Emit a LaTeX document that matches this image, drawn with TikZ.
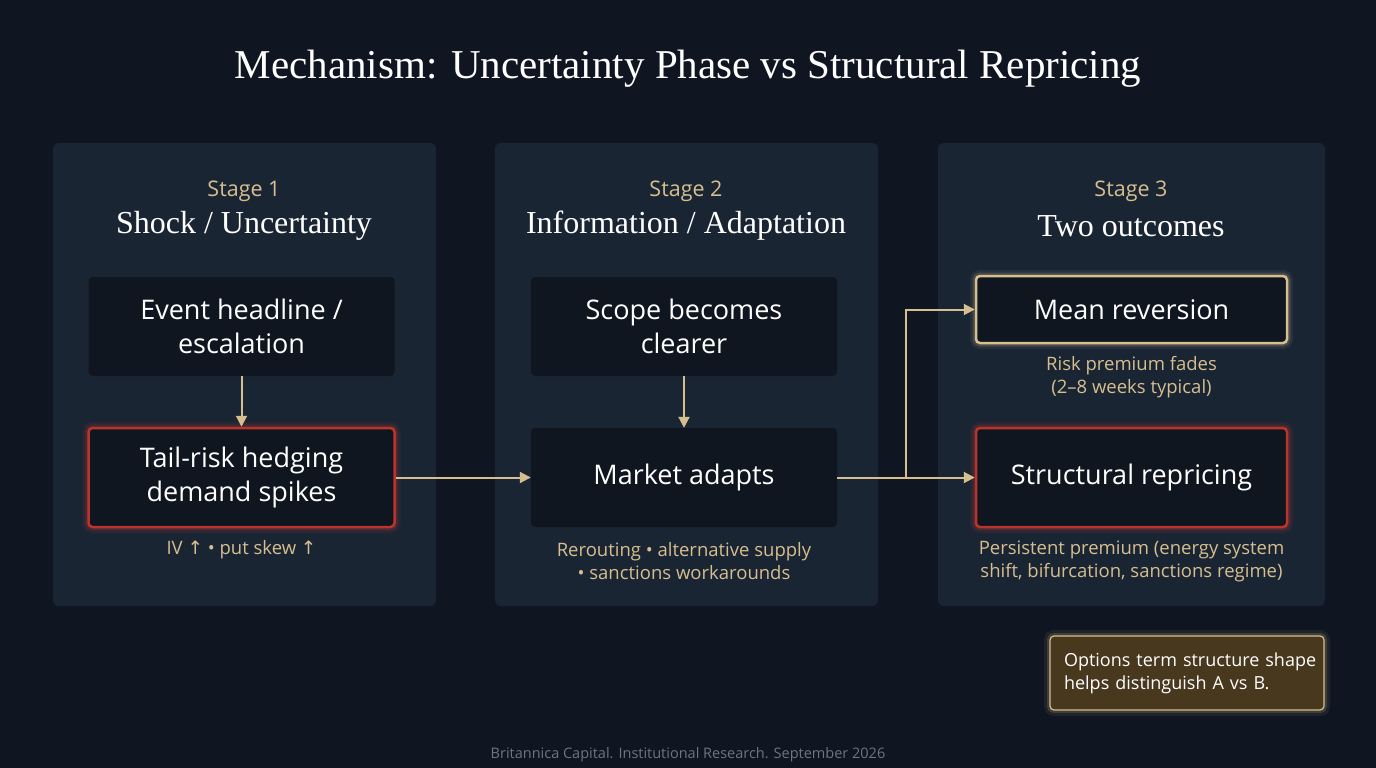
\documentclass[tikz,border=0pt]{standalone}
\usepackage{fontspec}
\setmainfont{Open Sans}
\newfontfamily\titlefont{Liberation Serif}
\newfontfamily\symfont{DejaVu Sans}
\usetikzlibrary{arrows.meta}
\definecolor{bg}{RGB}{15,22,33}
\definecolor{panel}{RGB}{26,37,52}
\definecolor{inner}{RGB}{16,22,31}
\definecolor{gold}{RGB}{214,190,142}
\definecolor{redb}{RGB}{185,52,45}
\definecolor{notefill}{RGB}{72,56,30}
\definecolor{foot}{RGB}{110,116,128}
\tikzset{
  panelbox/.style={rectangle, rounded corners=6pt, fill=panel, minimum width=383pt, minimum height=463pt, inner sep=0},
  box/.style={rectangle, rounded corners=4pt, fill=inner, minimum width=306pt, minimum height=99pt, text=white, font=\fontsize{27}{34}\selectfont, align=center, inner sep=0},
  redglow/.style={preaction={draw=redb, fill=none, line width=12pt, opacity=0.10},
                  preaction={draw=redb, fill=none, line width=7pt, opacity=0.22},
                  draw=redb, line width=2.5pt},
  goldglow/.style={preaction={draw=gold, fill=none, line width=12pt, opacity=0.08},
                   preaction={draw=gold, fill=none, line width=7pt, opacity=0.18},
                   draw=gold, line width=2.5pt},
  stagelbl/.style={text=gold, font=\fontsize{21.5}{24}\selectfont},
  stagehead/.style={text=white, font=\titlefont\fontsize{32}{38}\selectfont},
  subtxt/.style={text=gold, font=\fontsize{18.5}{23}\selectfont, align=center},
  conn/.style={draw=gold, line width=2pt},
  arr/.style={conn, -{Triangle[length=11pt,width=11pt]}},
}
\begin{document}
\begin{tikzpicture}[x=1pt,y=-1pt]
\useasboundingbox (0,0) rectangle (1376,768);
\fill[bg] (0,0) rectangle (1376,768);

\node[text=white, font=\titlefont\fontsize{41}{48}\selectfont] (title) at (688,69) {Mechanism: Uncertainty Phase vs Structural Repricing};

\node[panelbox] (p1) at (244.5,374.5) {};
\node[panelbox] (p2) at (686.5,374.5) {};
\node[panelbox, minimum width=387pt] (p3) at (1131.5,374.5) {};

\node[stagelbl] (s1) at (244,191) {Stage 1};
\node[stagehead] (h1) at (244,226) {Shock / Uncertainty};
\node[stagelbl] (s2) at (686,191) {Stage 2};
\node[stagehead] (h2) at (686,226) {Information / Adaptation};
\node[stagelbl] (s3) at (1131,191) {Stage 3};
\node[stagehead] (h3) at (1131,226) {Two outcomes};

\node[box] (event) at (241.5,326.5) {Event headline /\\escalation};
\node[box, redglow] (tail) at (241.5,477.5) {Tail-risk hedging\\demand spikes};
\node[subtxt] (ivtxt) at (241.5,550) {IV {\symfont ↑} • put skew {\symfont ↑}};

\node[box] (scope) at (684,326.5) {Scope becomes\\clearer};
\node[box] (market) at (684,477.5) {Market adapts};
\node[subtxt] (mtxt) at (684,561.5) {Rerouting • alternative supply\\• sanctions workarounds};

\node[box, goldglow, minimum width=311pt, minimum height=67pt] (mean) at (1131.5,309.5) {Mean reversion};
\node[subtxt] (meantxt) at (1131.5,377.5) {Risk premium fades\\(2–8 weeks typical)};
\node[box, redglow, minimum width=311pt] (struct) at (1131.5,477.5) {Structural repricing};
\node[subtxt] (structtxt) at (1131.5,561.5) {Persistent premium (energy system\\shift, bifurcation, sanctions regime)};

\draw[arr] (event.south) -- (tail.north);
\draw[arr] (scope.south) -- (market.north);
\draw[arr] (tail.east) -- (market.west);
\coordinate (split) at (906,477.5);
\draw[conn] (market.east) -- (split);
\draw[arr] (split) -- (struct.west);
\draw[arr] (split) |- (mean.west);

\node[rectangle, rounded corners=4pt, fill=notefill,
      preaction={draw=gold, fill=none, line width=12pt, opacity=0.08},
      preaction={draw=gold, fill=none, line width=6pt, opacity=0.18},
      draw=gold, line width=1.2pt, minimum width=274pt, minimum height=74pt,
      text width=260pt, inner xsep=7pt, inner ysep=8pt, align=left, text=white,
      font=\fontsize{18}{23}\selectfont] (note) at (1187,673) {\hspace*{7pt}Options term structure shape\\\hspace*{7pt}helps distinguish A vs B.};

\node[text=foot, font=\fontsize{14.5}{16}\selectfont] (footer) at (688,755) {Britannica Capital. Institutional Research. September 2026};
\end{tikzpicture}
\end{document}
